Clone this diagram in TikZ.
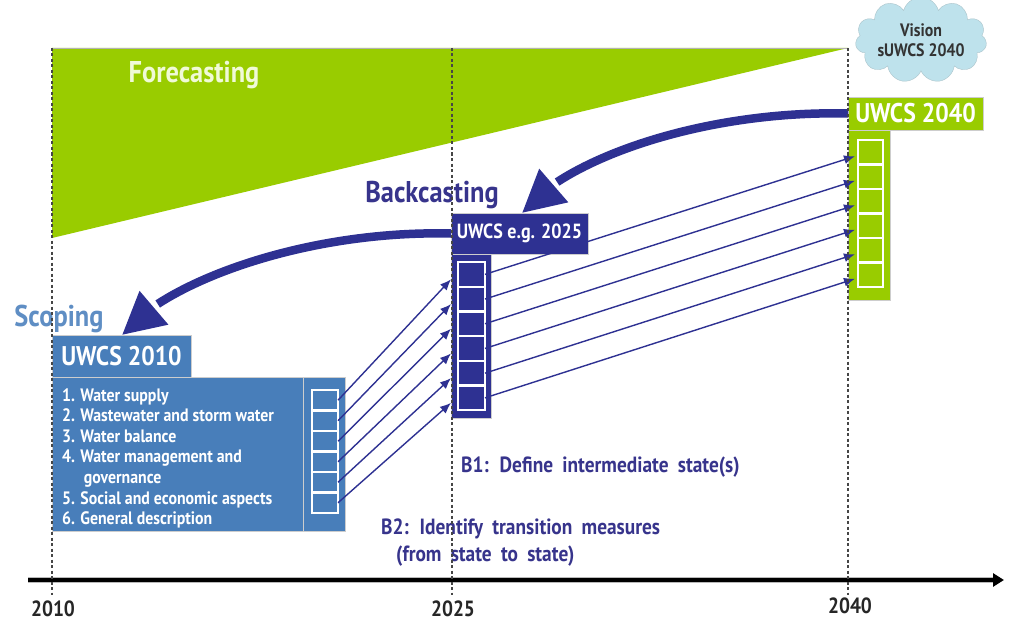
\documentclass[tikz,border=0pt]{standalone}
\usepackage{fontspec}
\setmainfont{PT Sans}[FakeStretch=0.88]
\usetikzlibrary{arrows.meta,bending,shapes.symbols,calc}
\definecolor{fgreen}{RGB}{153,204,0}
\definecolor{dblue}{RGB}{46,49,146}
\definecolor{mblue}{RGB}{72,126,186}
\definecolor{sblue}{RGB}{95,142,196}
\definecolor{tblue}{RGB}{55,52,140}
\definecolor{cloudc}{RGB}{190,226,236}
\definecolor{ftext}{RGB}{240,250,215}
\definecolor{dashc}{RGB}{70,70,70}
\definecolor{edgec}{RGB}{205,205,205}
\newcommand\fsz[1]{\fontsize{#1}{#1}\selectfont\bfseries}
\begin{document}
\begin{tikzpicture}[x=1pt,y=-1pt,
  box/.style={anchor=north west, inner sep=0pt, outer sep=0pt, draw=edgec, line width=0.8pt},
  sq/.style={inner sep=0pt, outer sep=0pt, draw=white, line width=2.2pt},
  conn/.style={draw=dblue, line width=1.4pt, -{Latex[length=11pt,width=9pt]}},
  big/.style={draw=dblue, line width=8.5pt, -{Triangle[length=42pt,width=42pt]}},
  vline/.style={draw=dashc, line width=1.2pt, dash pattern=on 3pt off 2.5pt},
  lbl/.style={inner sep=0pt, font=\fsz{#1}},
  btxt/.style={inner sep=0pt, anchor=west, text=tblue, font={\fsz{22}\spaceskip=0.42em\relax}}]
\useasboundingbox (0,0) rectangle (1009,623);
\fill[white] (0,0) rectangle (1009,623);
% forecasting wedge
\fill[fgreen] (52,48) -- (848,48) -- (52,238) -- cycle;
\draw[gray!60, line width=0.8pt] (52,48) -- (848,48);
\node[lbl=30, text=ftext] (fc) at (194,75) {Forecasting};
% UWCS 2040
\node[box, fill=fgreen, minimum width=135pt, minimum height=33pt, text=white, font=\fsz{27}] (b40) at (848,97) {UWCS 2040};
\node[box, fill=fgreen, minimum width=42pt, minimum height=170pt] (c40) at (848,130) {};
\foreach \i in {1,...,6}
  \node[sq, fill=fgreen, minimum width=25pt, minimum height=24.5pt] (g\i) at (870.5,{140+24.5*(\i-0.5)}) {};
% UWCS 2025
\node[box, fill=dblue, minimum width=137pt, minimum height=41pt, text=white, font=\fsz{20.5}] (b25) at (451,213) {UWCS e.g. 2025};
\node[box, fill=dblue, minimum width=40pt, minimum height=164pt] (c25) at (451,254) {};
\foreach \i in {1,...,6}
  \node[sq, fill=dblue, minimum width=27pt, minimum height=24.7pt] (b\i) at (471.5,{262+24.7*(\i-0.5)}) {};
% UWCS 2010
\node[box, fill=mblue, minimum width=139pt, minimum height=42pt, text=white, font=\fsz{27}] (b10) at (52,335) {UWCS 2010};
\node[box, fill=mblue, minimum width=251pt, minimum height=154pt] (m10) at (52,377) {};
\node[box, fill=mblue, minimum width=42pt, minimum height=154pt] (c10) at (303,377) {};
\foreach \i in {1,...,6}
  \node[sq, fill=mblue, minimum width=26pt, minimum height=20.5pt] (a\i) at (325,{390+20.5*(\i-0.5)}) {};
\node[anchor=north west, inner sep=0pt, align=left, text=white, font={\fontsize{18}{20.65}\selectfont\bfseries}] (list) at (62,388)
  {1. Water supply\\2. Wastewater and storm water\\3. Water balance\\4. Water management and\\\hspace*{1.2em}governance\\5. Social and economic aspects\\6. General description};
% thin connectors
\foreach \i in {1,...,6}
  \draw[conn] (a\i.east) -- ($(c25.west |- b\i.center)+(0,5)$);
\foreach \i in {1,...,6}
  \draw[conn] (b\i.east) -- ($(g\i.west)+(-3,4)$);
% big curved arrows
\coordinate (tip25) at ($(b25.north west)+(71,0)$);
\coordinate (tip10) at ($(b10.north west)+(70,0)$);
\draw[big] (b40.west) .. controls (698,110) and (560,162) .. (tip25);
\draw[big] (b25.west) .. controls (300,230) and (160,285) .. (tip10);
% labels
\node[lbl=30, text=tblue] (bc) at (432,195) {Backcasting};
\node[lbl=30, text=sblue] (sc) at (59,319) {Scoping};
\node[btxt] (t1) at (461,467) {B1: Define intermediate state(s)};
\node[btxt] (t2a) at (381,529) {B2: Identify transition measures};
\node[btxt] (t2b) at (396,556) {(from state to state)};
% cloud
\node[cloud, cloud puffs=11, aspect=2, fill=cloudc, draw=cloudc!70!gray, minimum width=104pt, minimum height=48pt, inner sep=0pt, align=center, text=black!80, font={\fontsize{18}{19.5}\selectfont\bfseries}] (cl) at (921,40) {Vision\\sUWCS 2040};
% axis
\draw[gray!55, line width=6.5pt] (28,580) -- (993,580);
\draw[black, line width=3.5pt, -{Triangle[length=11pt,width=13pt]}] (28,580) -- (1004,580);
% dashed time lines
\draw[vline] (52,48) -- (52,595);
\draw[vline] (452,48) -- (452,595);
\draw[vline] (848,48) -- (848,595);
\node[lbl=22, text=black!85] (y10) at (53,609) {2010};
\node[lbl=22, text=black!85] (y25) at (453,609) {2025};
\node[lbl=22, text=black!85] (y40) at (850,606) {2040};
\end{tikzpicture}
\end{document}
